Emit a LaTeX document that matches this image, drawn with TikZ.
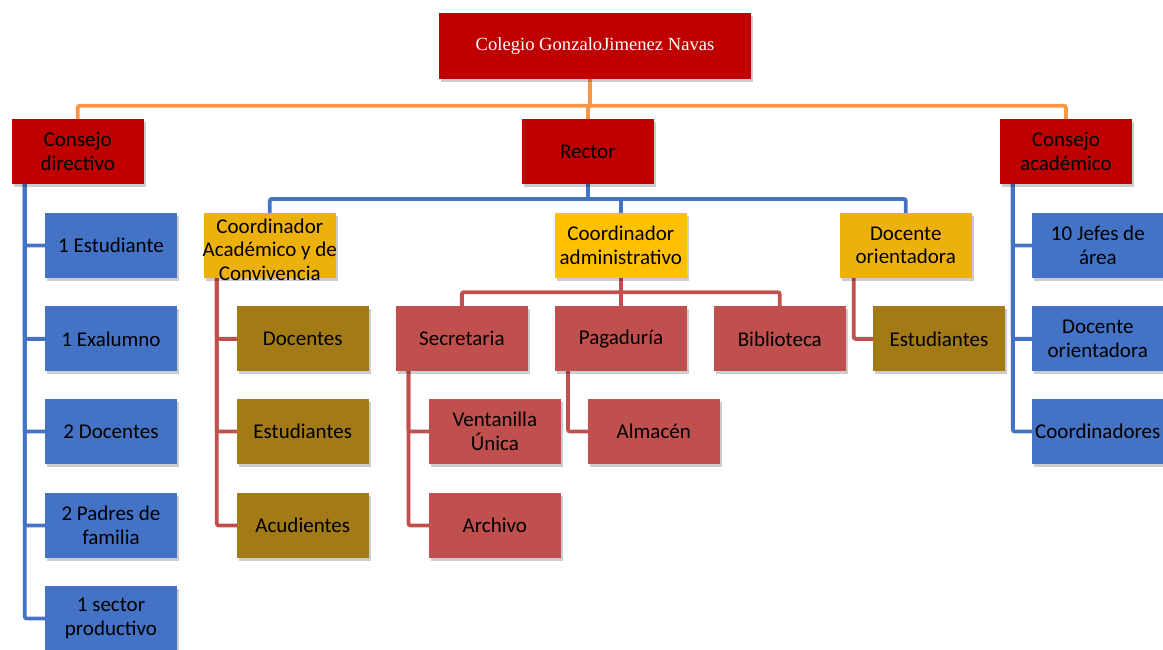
\documentclass[tikz,border=0pt]{standalone}
\usepackage{fontspec}
\setmainfont{Carlito}
\newfontfamily\timesf{Liberation Serif}
\usetikzlibrary{shadows,backgrounds}
\definecolor{cDark}{HTML}{C00000}
\definecolor{cBlue}{HTML}{4472C4}
\definecolor{cGoldA}{HTML}{EDB10E}
\definecolor{cGoldB}{HTML}{FFC000}
\definecolor{cOlive}{HTML}{A27A16}
\definecolor{cRed}{HTML}{C0504D}
\definecolor{cOrange}{HTML}{F79646}
\begin{document}
\begin{tikzpicture}[x=1pt,y=-1pt,
  boxfont/.style={font=\fontsize{21}{23.5}\selectfont},
  box/.style={rectangle, minimum width=131.6pt, minimum height=65pt, inner sep=0pt,
    align=center, boxfont, text=black,
    drop shadow={shadow xshift=2pt, shadow yshift=-3pt, opacity=0.2, fill=black}},
  topbox/.style={box, minimum width=312pt, minimum height=66pt, fill=cDark, text=white,
    font=\timesf\fontsize{18.6}{22}\selectfont},
  darkbox/.style={box, fill=cDark},
  bluebox/.style={box, fill=cBlue},
  goldAbox/.style={box, fill=cGoldA},
  goldBbox/.style={box, fill=cGoldB},
  olivebox/.style={box, fill=cOlive},
  redbox/.style={box, fill=cRed},
  link/.style={line width=3.8pt, rounded corners=2pt, line cap=rect},
  orangelink/.style={link, draw=cOrange},
  bluelink/.style={link, draw=cBlue},
  redlink/.style={link, draw=cRed}]
\useasboundingbox (0,0) rectangle (1163,650);

% level 0
\node[topbox] (col) at (595,46) {Colegio GonzaloJimenez Navas};
% level 1
\node[darkbox] (cd) at (77.75,151.5) {Consejo\\directivo};
\node[darkbox] (rec) at (587.8,151.5) {Rector};
\node[darkbox] (ca) at (1065.85,151.5) {Consejo\\académico};
% level 2
\node[bluebox] (e1) at (111,245.5) {1 Estudiante};
\node[goldAbox, label={[boxfont, align=center, yshift=-4pt]center:Coordinador\\\makebox[0pt]{Académico y de}\\Convivencia}] (cac) at (269.8,245.5) {};
\node[goldBbox] (cad) at (620.85,245.5) {Coordinador\\administrativo};
\node[goldAbox] (dor) at (905.75,245.5) {Docente\\orientadora};
\node[bluebox] (jef) at (1097.8,245.5) {10 Jefes de\\área};
% level 3
\node[bluebox] (e2) at (111,338.85) {1 Exalumno};
\node[olivebox] (doc) at (302.75,338.85) {Docentes};
\node[redbox] (sec) at (461.85,338.85) {Secretaria};
\node[redbox] (pag) at (621,338.85) {Pagaduría};
\node[redbox] (bib) at (779.8,338.85) {Biblioteca};
\node[olivebox] (est2) at (939,338.85) {Estudiantes};
\node[bluebox] (dor2) at (1097.8,338.85) {Docente\\orientadora};
% level 4
\node[bluebox] (e3) at (111,431.5) {2 Docentes};
\node[olivebox] (est) at (302.75,431.5) {Estudiantes};
\node[redbox] (ven) at (494.85,431.5) {Ventanilla\\Única};
\node[redbox] (alm) at (653.8,431.5) {Almacén};
\node[bluebox] (coo) at (1097.8,431.5) {Coordinadores};
% level 5
\node[bluebox] (e4) at (111,525.5) {2 Padres de\\familia};
\node[olivebox] (acu) at (302.75,525.5) {Acudientes};
\node[redbox] (arc) at (494.85,525.5) {Archivo};
% level 6
\node[bluebox] (e5) at (111,618.5) {1 sector\\productivo};

\begin{scope}[on background layer]
% orange
\coordinate (ob) at (590,105.7);
\draw[orangelink] (col.south -| ob) -- (ob);
\draw[orangelink] (cd.north) |- (ca.north |- ob) -- (ca.north);
\draw[orangelink] (rec.north) -- (rec.north |- ob);
% blue from rector
\coordinate (bb) at (0,199);
\draw[bluelink] (rec.south) -- (rec.south |- bb);
\draw[bluelink] (cac.north) |- (dor.north |- bb) -- (dor.north);
\draw[bluelink] (cad.north) -- (cad.north |- bb);
% blue from consejo directivo
\foreach \c in {e1,e2,e3,e4,e5}
  \draw[bluelink] (cd.south west) ++(13,0) |- (\c.west);
% blue from consejo academico
\foreach \c in {jef,dor2,coo}
  \draw[bluelink] (ca.south west) ++(13,0) |- (\c.west);
% red from coord academico
\foreach \c in {doc,est,acu}
  \draw[redlink] (cac.south west) ++(13,0) |- (\c.west);
% red from coord administrativo
\coordinate (rb) at (0,292.3);
\draw[redlink] (cad.south) -- (cad.south |- rb);
\draw[redlink] (sec.north) |- (bib.north |- rb) -- (bib.north);
\draw[redlink] (pag.north) -- (pag.north |- rb);
% red from docente orientadora
\draw[redlink] (dor.south west) ++(14,0) |- (est2.west);
% red from secretaria / pagaduria
\foreach \c in {ven,arc}
  \draw[redlink] (sec.south west) ++(12.7,0) |- (\c.west);
\draw[redlink] (pag.south west) ++(13,0) |- (alm.west);
\end{scope}
\end{tikzpicture}
\end{document}
